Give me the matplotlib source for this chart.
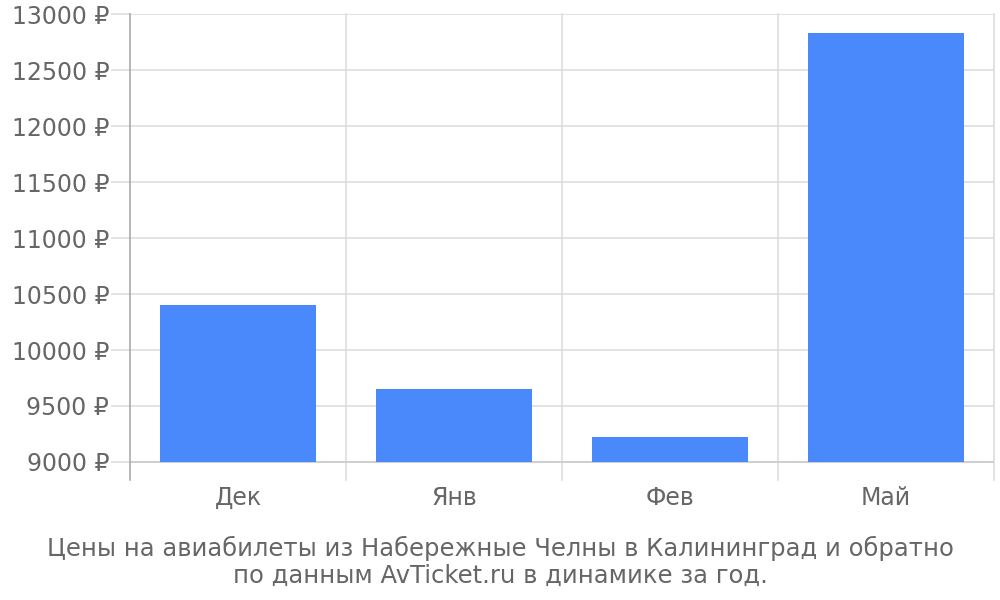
import matplotlib
matplotlib.use("Agg")
import matplotlib.pyplot as plt

categories = ["Дек", "Янв", "Фев", "Май"]
prices = [10400, 9650, 9220, 12830]
yticks = [9000, 9500, 10000, 10500, 11000, 11500, 12000, 12500, 13000]
caption = "Цены на авиабилеты из Набережные Челны в Калининград и обратно\nпо данным AvTicket.ru в динамике за год."

plt.rcParams['font.family'] = ['DejaVu Sans']
text_color = "#666666"
grid_color = "#dddddd"
bar_color = "#4a89fc"

fig = plt.figure(figsize=(10, 6), dpi=100)
ax = fig.add_axes([0.130, 1 - 480 / 600, 0.864, 466 / 600])

base = 9000
x = list(range(len(categories)))
ax.bar(x, [p - base for p in prices], bottom=base, width=0.72, color=bar_color, zorder=3)

top = 13000
ppu = 448 / 4000
bottom = base - 18 / ppu
ax.set_ylim(bottom, top)
ax.set_xlim(-0.5, len(categories) - 0.5)

ax.set_yticks(yticks)
ax.set_yticklabels([f"{v} ₽" for v in yticks])
ax.set_xticks([i + 0.5 for i in range(len(categories))], minor=False)
ax.set_xticklabels([])
ax.set_xticks(x, minor=True)
ax.set_xticklabels(categories, minor=True)

ax.grid(True, axis="y", color=grid_color, linewidth=1.2, zorder=0)
ax.grid(True, axis="x", which="major", color=grid_color, linewidth=1.2, zorder=0)
for gl in ax.get_xgridlines():
    gl.set_clip_on(False)
ax.axhline(base, color="#cccccc", linewidth=1.2, zorder=2)

ax.tick_params(axis="y", length=14, color=grid_color, width=1.2, labelsize=17, labelcolor=text_color, pad=1)
ax.tick_params(axis="x", which="major", length=0)
ax.tick_params(axis="x", which="minor", length=0, labelsize=17, labelcolor=text_color, pad=4)

for s in ["top", "right", "bottom"]:
    ax.spines[s].set_visible(False)
ax.spines["left"].set_color("#aaaaaa")
ax.spines["left"].set_linewidth(1.2)

fig.text(0.5, 1 - 562 / 600, caption, ha="center", va="center", fontsize=17.5, color=text_color, linespacing=1.15)

fig.savefig("out.png", dpi=100)
